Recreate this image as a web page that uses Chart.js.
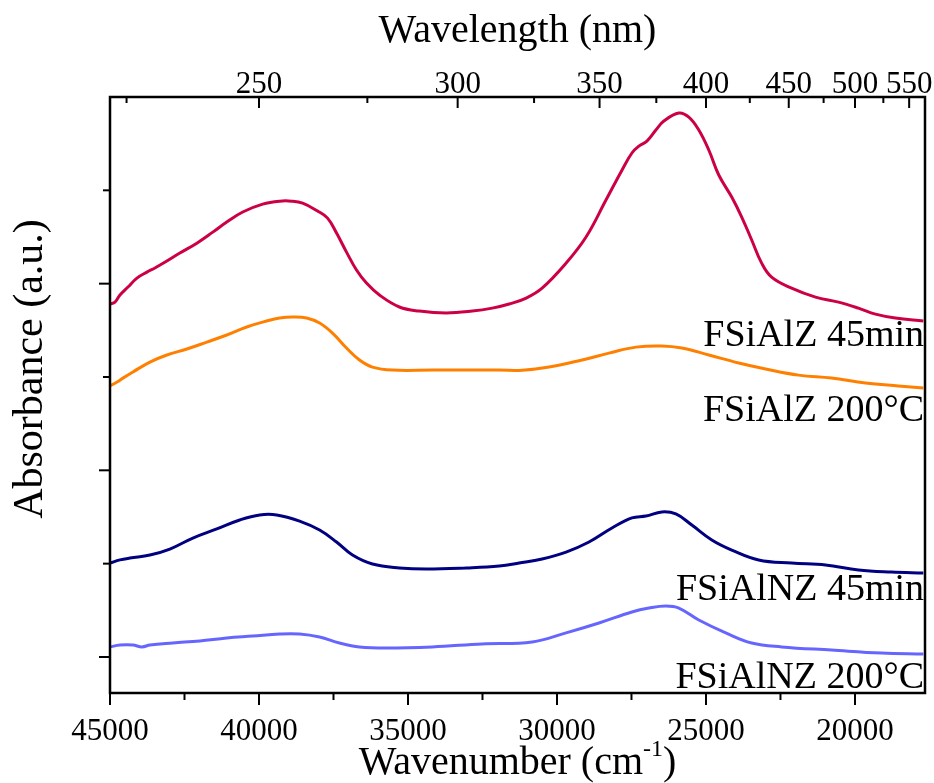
<!DOCTYPE html>
<html>
<head>
<meta charset="utf-8">
<script src="https://cdn.jsdelivr.net/npm/chart.js@4"></script>
<style>
  html, body { margin: 0; padding: 0; background: #fff; }
  #wrap { width: 934px; height: 783px; }
</style>
</head>
<body>
<div id="wrap"><canvas id="chart"></canvas></div>
<script>
// wavenumber (cm-1) / absorbance (a.u.)
const wnZ45 = [45000, 44833, 44665, 44397, 44096, 43761, 43493, 43091, 42656, 42086, 41550, 41082, 40546, 39876, 39307, 38905, 38536, 38034, 37699, 37398, 37063, 36728, 36393, 35958, 35288, 34618, 33714, 32843, 32173, 31604, 31034, 30499, 29695, 29025, 28356, 27820, 27485, 27250, 26982, 26681, 26413, 25911, 25576, 25241, 24906, 24571, 24136, 23801, 23466, 23132, 22797, 22127, 21323, 20553, 19883, 19313, 18643, 17706];
const absZ45 = [1.891, 1.901, 1.939, 1.982, 2.030, 2.062, 2.084, 2.121, 2.164, 2.217, 2.276, 2.330, 2.384, 2.426, 2.442, 2.442, 2.431, 2.389, 2.351, 2.271, 2.169, 2.073, 2.003, 1.939, 1.875, 1.853, 1.843, 1.853, 1.869, 1.891, 1.923, 1.976, 2.110, 2.250, 2.448, 2.608, 2.700, 2.737, 2.764, 2.823, 2.871, 2.914, 2.892, 2.823, 2.716, 2.582, 2.464, 2.357, 2.234, 2.110, 2.035, 1.976, 1.928, 1.901, 1.869, 1.837, 1.816, 1.800];

const wnZ200 = [45000, 44766, 44565, 44230, 43660, 43091, 42421, 41751, 41082, 40412, 39742, 39307, 38871, 38402, 37967, 37532, 37063, 36628, 36192, 35522, 34183, 33044, 31939, 31168, 30264, 29159, 28255, 27351, 26480, 25810, 24906, 23901, 22998, 21892, 20787, 19648, 18543, 17706];
const absZ200 = [1.452, 1.473, 1.494, 1.527, 1.580, 1.618, 1.650, 1.687, 1.725, 1.768, 1.800, 1.816, 1.821, 1.816, 1.789, 1.735, 1.655, 1.591, 1.553, 1.537, 1.537, 1.537, 1.537, 1.536, 1.553, 1.591, 1.628, 1.660, 1.666, 1.655, 1.618, 1.575, 1.543, 1.510, 1.494, 1.468, 1.452, 1.441];

const wnNZ45 = [45000, 44665, 44330, 43660, 42991, 42220, 41416, 40646, 39977, 39407, 38637, 37967, 37398, 36862, 36192, 35288, 34384, 33044, 31939, 31269, 30499, 29695, 28925, 28155, 27485, 27016, 26480, 26011, 25475, 24805, 24136, 23232, 22127, 20988, 19883, 18777, 17706];
const absNZ45 = [0.503, 0.520, 0.530, 0.546, 0.578, 0.637, 0.686, 0.734, 0.761, 0.761, 0.728, 0.680, 0.616, 0.546, 0.498, 0.477, 0.471, 0.477, 0.487, 0.503, 0.525, 0.562, 0.616, 0.691, 0.745, 0.755, 0.777, 0.766, 0.707, 0.627, 0.573, 0.520, 0.503, 0.493, 0.466, 0.455, 0.450];

const wnNZ200 = [45000, 44665, 44230, 43928, 43660, 42890, 41986, 41082, 40211, 39307, 38637, 37967, 37297, 36628, 35723, 34183, 32508, 30834, 29695, 28590, 27485, 26915, 26346, 25911, 25241, 24337, 23466, 22462, 20787, 19112, 17706];
const absNZ200 = [0.054, 0.064, 0.064, 0.054, 0.064, 0.075, 0.086, 0.102, 0.112, 0.123, 0.123, 0.107, 0.075, 0.054, 0.048, 0.054, 0.070, 0.080, 0.129, 0.182, 0.241, 0.262, 0.273, 0.262, 0.198, 0.129, 0.075, 0.054, 0.037, 0.021, 0.016];

const seriesNames = ["FSiAlZ 45min", "FSiAlZ 200°C", "FSiAlNZ 45min", "FSiAlNZ 200°C"];
const seriesColors = ["#cc0044", "#ff8000", "#000080", "#6666ff"];
const labelY = [1.666, 1.264, 0.305, -0.166];

// ticks
const wnMajor = [45000, 40000, 35000, 30000, 25000, 20000];
const wnMinor = [42500, 37500, 32500, 27500, 22500, 17500];
const nmMajor = [250, 300, 350, 400, 450, 500, 550];
const nmMinor = [225, 275, 325, 375, 425, 475, 525];
const yMajor = [0, 1, 2];
const yMinor = [0.5, 1.5, 2.5];

const X_MIN = 17650, X_MAX = 45000;
const FONT = '"Liberation Serif", "DejaVu Serif", serif';

const pairs = (xs, ys) => xs.map((v, i) => ({ x: v, y: ys[i] }));
const allData = [
  pairs(wnZ45, absZ45),
  pairs(wnZ200, absZ200),
  pairs(wnNZ45, absNZ45),
  pairs(wnNZ200, absNZ200)
];

const frame = {
  id: "frame",
  afterDraw(chart) {
    const { ctx, chartArea: a, scales } = chart;
    const x = scales.x, x2 = scales.x2, y = scales.y;
    ctx.save();
    ctx.strokeStyle = "#000";
    ctx.lineWidth = 2.5;
    ctx.strokeRect(a.left, a.top, a.right - a.left, a.bottom - a.top);

    ctx.lineWidth = 2;
    const line = (x1, y1, xx, yy) => {
      ctx.beginPath();
      ctx.moveTo(x1, y1);
      ctx.lineTo(xx, yy);
      ctx.stroke();
    };
    wnMajor.forEach(v => { const p = x.getPixelForValue(v); line(p, a.bottom, p, a.bottom + 12); });
    wnMinor.filter(v => v >= X_MIN).forEach(v => { const p = x.getPixelForValue(v); line(p, a.bottom, p, a.bottom + 7); });
    nmMajor.forEach(n => { const p = x2.getPixelForValue(1e7 / n); line(p, a.top, p, a.top + 11); });
    nmMinor.forEach(n => { const p = x2.getPixelForValue(1e7 / n); line(p, a.top, p, a.top + 6); });
    yMajor.forEach(v => { const p = y.getPixelForValue(v); line(a.left - 11, p, a.left, p); });
    yMinor.forEach(v => { const p = y.getPixelForValue(v); line(a.left - 7, p, a.left, p); });

    ctx.fillStyle = "#000";
    ctx.textBaseline = "alphabetic";

    // curve labels
    ctx.textAlign = "right";
    ctx.font = "38px " + FONT;
    seriesNames.forEach((s, i) => ctx.fillText(s, a.right - 1, y.getPixelForValue(labelY[i])));

    // axis titles
    const cx = (a.left + a.right) / 2;
    ctx.textAlign = "center";
    ctx.font = "40px " + FONT;
    ctx.fillText("Wavelength (nm)", cx, 42);

    const base = "Wavenumber (cm";
    ctx.font = "40px " + FONT;
    const w1 = ctx.measureText(base).width;
    ctx.font = "24px " + FONT;
    const w2 = ctx.measureText("-1").width;
    ctx.font = "40px " + FONT;
    const w3 = ctx.measureText(")").width;
    let sx = cx - (w1 + w2 + w3) / 2;
    ctx.textAlign = "left";
    ctx.fillText(base, sx, 774);
    ctx.font = "24px " + FONT;
    ctx.fillText("-1", sx + w1, 756);
    ctx.font = "40px " + FONT;
    ctx.fillText(")", sx + w1 + w2, 774);

    ctx.save();
    ctx.translate(42, 369);
    ctx.rotate(-Math.PI / 2);
    ctx.textAlign = "center";
    ctx.font = "42px " + FONT;
    ctx.fillText("Absorbance (a.u.)", 0, 0);
    ctx.restore();

    ctx.restore();
  }
};

new Chart(document.getElementById("chart"), {
  type: "line",
  data: {
    datasets: allData.map((d, i) => ({
      label: seriesNames[i],
      data: d,
      borderColor: seriesColors[i],
      backgroundColor: seriesColors[i],
      borderWidth: 3,
      pointRadius: 0,
      tension: 0.4,
      fill: false
    }))
  },
  options: {
    responsive: true,
    maintainAspectRatio: false,
    animation: false,
    layout: { padding: { left: 0, right: 9, top: 0, bottom: 0 } },
    plugins: { legend: { display: false }, tooltip: { enabled: false } },
    scales: {
      x: {
        type: "linear",
        position: "bottom",
        reverse: true,
        min: X_MIN,
        max: X_MAX,
        grid: { display: false },
        border: { display: false },
        afterBuildTicks: s => { s.ticks = wnMajor.map(v => ({ value: v })); },
        afterFit: s => { s.height = 90; },
        ticks: {
          color: "#000",
          font: { family: FONT, size: 31 },
          padding: 12,
          maxRotation: 0,
          autoSkip: false,
          callback: v => String(v)
        }
      },
      x2: {
        type: "linear",
        position: "top",
        reverse: true,
        min: X_MIN,
        max: X_MAX,
        grid: { display: false },
        border: { display: false },
        afterBuildTicks: s => { s.ticks = nmMajor.map(n => ({ value: 1e7 / n })); },
        afterFit: s => { s.height = 97; },
        ticks: {
          color: "#000",
          font: { family: FONT, size: 31 },
          padding: -14,
          maxRotation: 0,
          autoSkip: false,
          callback: v => String(Math.round(1e7 / v))
        }
      },
      y: {
        type: "linear",
        min: -0.193,
        max: 3.0,
        grid: { display: false },
        border: { display: false },
        ticks: { display: false },
        afterFit: s => { s.width = 110; }
      }
    }
  },
  plugins: [frame]
});
</script>
</body>
</html>
